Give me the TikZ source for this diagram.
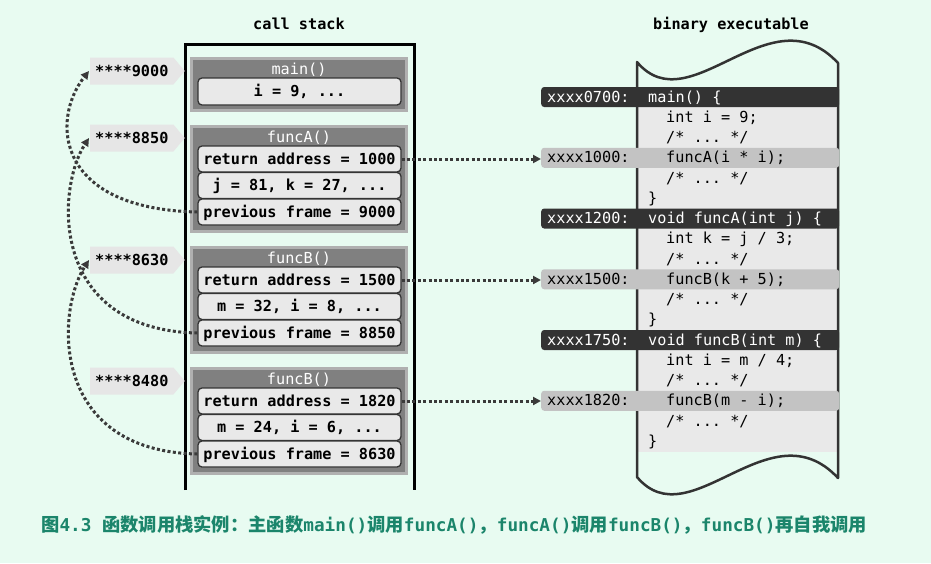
\documentclass[tikz,border=0pt]{standalone}
\usepackage{fontspec}
\setmonofont{DejaVu Sans Mono}
\newfontfamily\cjk{Noto Sans CJK SC}
\usetikzlibrary{arrows.meta,shapes.symbols}
\definecolor{bg}{RGB}{232,251,241}
\definecolor{frameedge}{RGB}{176,176,176}
\definecolor{framefill}{RGB}{128,128,128}
\definecolor{slotedge}{RGB}{52,52,52}
\definecolor{slotfill}{RGB}{233,233,233}
\definecolor{labfill}{RGB}{230,230,230}
\definecolor{dotc}{RGB}{58,58,58}
\definecolor{darkc}{RGB}{51,51,51}
\definecolor{hlc}{RGB}{195,195,195}
\definecolor{codefill}{RGB}{233,233,233}
\definecolor{capc}{RGB}{27,133,107}
\newcommand\capcj[1]{{\cjk\bfseries #1}}
\newcommand\capmo[1]{{\ttfamily\bfseries\fontsize{17.7}{20}\selectfont #1}}
\begin{document}
\begin{tikzpicture}[x=1pt,y=-1pt,
  font=\ttfamily\fontsize{15.2}{18}\selectfont,
  frame/.style={draw=frameedge, fill=framefill, line width=3pt, minimum width=215pt, inner sep=0pt},
  ftitle/.style={text=white, inner sep=0pt, text height=13pt, text depth=3pt},
  slot/.style={draw=slotedge, fill=slotfill, rounded corners=4pt, line width=1.3pt,
    minimum width=203pt, minimum height=26pt, inner sep=0pt, text height=13pt, text depth=3pt,
    font=\ttfamily\bfseries\fontsize{15.2}{18}\selectfont},
  addr/.style={signal, signal to=east, signal pointer angle=100, fill=labfill,
    minimum height=27pt, inner xsep=5pt, inner ysep=0pt, anchor=west,
    text height=13pt, text depth=3pt, font=\ttfamily\bfseries\fontsize{15.2}{18}\selectfont},
  dots/.style={draw=dotc, line width=3pt, dash pattern=on 3pt off 2.4pt,
    -{Triangle[length=8pt,width=8pt]}},
  darkbar/.style={fill=darkc, rounded corners=3pt, minimum width=298pt, minimum height=20pt, inner sep=0pt, anchor=west},
  hlbar/.style={fill=hlc, rounded corners=3pt, minimum width=298pt, minimum height=20pt, inner sep=0pt, anchor=west},
  codetxt/.style={anchor=west, inner sep=0pt, text height=13pt, text depth=3pt},
  titletxt/.style={inner sep=0pt, text height=13pt, text depth=3pt, font=\ttfamily\bfseries\fontsize{15.2}{18}\selectfont}
]
\fill[bg] (0,0) rectangle (931,563);
\useasboundingbox (0,0) rectangle (931,563);

% titles
\node[titletxt] (tstack) at (299,24) {call stack};
\node[titletxt] (tbin) at (731,24) {binary executable};

% call stack outline
\draw[line width=3pt, black] (185,490) -- (185,44) -- (414,44) -- (414,490);

% main frame
\node[frame, minimum height=52pt] (fmain) at (299,84.5) {};
\node[ftitle] (tmain) at (299,69) {main()};
\node[slot, minimum height=27pt] (smain) at (299.5,91.5) {i = 9, ...};

% funcA frame
\node[frame, minimum height=105pt] (fA) at (299,179) {};
\node[ftitle] (tA) at (299,137.5) {funcA()};
\node[slot] (rA) at (299.5,159) {return address = 1000};
\node[slot] (vA) at (299.5,185.5) {j = 81, k = 27, ...};
\node[slot] (pA) at (299.5,212) {previous frame = 9000};

% funcB frame
\node[frame, minimum height=105pt] (fB) at (299,300) {};
\node[ftitle] (tB) at (299,258.5) {funcB()};
\node[slot] (rB) at (299.5,280) {return address = 1500};
\node[slot] (vB) at (299.5,306.5) {m = 32, i = 8, ...};
\node[slot] (pB) at (299.5,333) {previous frame = 8850};

% funcB second frame
\node[frame, minimum height=105pt] (fC) at (299,421) {};
\node[ftitle] (tC) at (299,379.5) {funcB()};
\node[slot] (rC) at (299.5,401) {return address = 1820};
\node[slot] (vC) at (299.5,427.5) {m = 24, i = 6, ...};
\node[slot] (pC) at (299.5,454) {previous frame = 8630};

% address labels
\node[addr] (l9000) at (90,71) {****9000};
\node[addr] (l8850) at (90,138) {****8850};
\node[addr] (l8630) at (90,260) {****8630};
\node[addr] (l8480) at (90,381) {****8480};

% binary executable document
\fill[codefill] (637,88) rectangle (838,451.5);
\draw[line width=2.5pt, darkc, line join=round]
  (637,62) .. controls (690,125) and (770,-10) .. (838,63)
  -- (838,478) .. controls (770,405) and (690,540) .. (637,477) -- cycle;

% rows
\node[darkbar] (b0) at (541,97) {};
\node[hlbar] (a1000) at (541,157.75) {};
\node[darkbar] (b6) at (541,218.5) {};
\node[hlbar] (a1500) at (541,279.25) {};
\node[darkbar] (b12) at (541,340) {};
\node[hlbar] (a1820) at (541,400.75) {};

\node[codetxt, text=white] (x0) at (547,97) {xxxx0700:};
\node[codetxt, text=white] (c0) at (648,97) {main() \{};
\node[codetxt] (c1) at (666,117.25) {int i = 9;};
\node[codetxt] (c2) at (666,137.5) {/* ... */};
\node[codetxt] (x3) at (547,157.75) {xxxx1000:};
\node[codetxt] (c3) at (666,157.75) {funcA(i * i);};
\node[codetxt] (c4) at (666,178) {/* ... */};
\node[codetxt] (c5) at (648,198.25) {\}};
\node[codetxt, text=white] (x6) at (547,218.5) {xxxx1200:};
\node[codetxt, text=white] (c6) at (648,218.5) {void funcA(int j) \{};
\node[codetxt] (c7) at (666,238.75) {int k = j / 3;};
\node[codetxt] (c8) at (666,259) {/* ... */};
\node[codetxt] (x9) at (547,279.25) {xxxx1500:};
\node[codetxt] (c9) at (666,279.25) {funcB(k + 5);};
\node[codetxt] (c10) at (666,299.5) {/* ... */};
\node[codetxt] (c11) at (648,319.75) {\}};
\node[codetxt, text=white] (x12) at (547,340) {xxxx1750:};
\node[codetxt, text=white] (c12) at (648,340) {void funcB(int m) \{};
\node[codetxt] (c13) at (666,360.25) {int i = m / 4;};
\node[codetxt] (c14) at (666,380.5) {/* ... */};
\node[codetxt] (x15) at (547,400.75) {xxxx1820:};
\node[codetxt] (c15) at (666,400.75) {funcB(m - i);};
\node[codetxt] (c16) at (666,421) {/* ... */};
\node[codetxt] (c17) at (648,441.25) {\}};

% return address arrows
\draw[dots] (rA.east) -- (rA.east -| a1000.west);
\draw[dots] (rB.east) -- (rB.east -| a1500.west);
\draw[dots] (rC.east) -- (rC.east -| a1820.west);

% previous frame arrows
\draw[dots] (pA.west) .. controls +(-143,-3) and +(-38,48) .. ([xshift=-1pt]l9000.west);
\draw[dots] (pB.west) .. controls +(-148,-3) and +(-33,51) .. ([xshift=-1pt]l8850.west);
\draw[dots] (pC.west) .. controls +(-148,-3) and +(-33,51) .. ([xshift=-1pt]l8630.west);

% caption
\node[anchor=west, inner sep=0pt, text=capc, font=\fontsize{18.3}{20}\selectfont] (cap) at (41,525)
  {\capcj{图}\capmo{4.3 }\capcj{函数调用栈实例：主函数}\capmo{main()}\capcj{调用}\capmo{funcA()}\capcj{，}\capmo{funcA()}\capcj{调用}\capmo{funcB()}\capcj{，}\capmo{funcB()}\capcj{再自我调用}};
\end{tikzpicture}
\end{document}
